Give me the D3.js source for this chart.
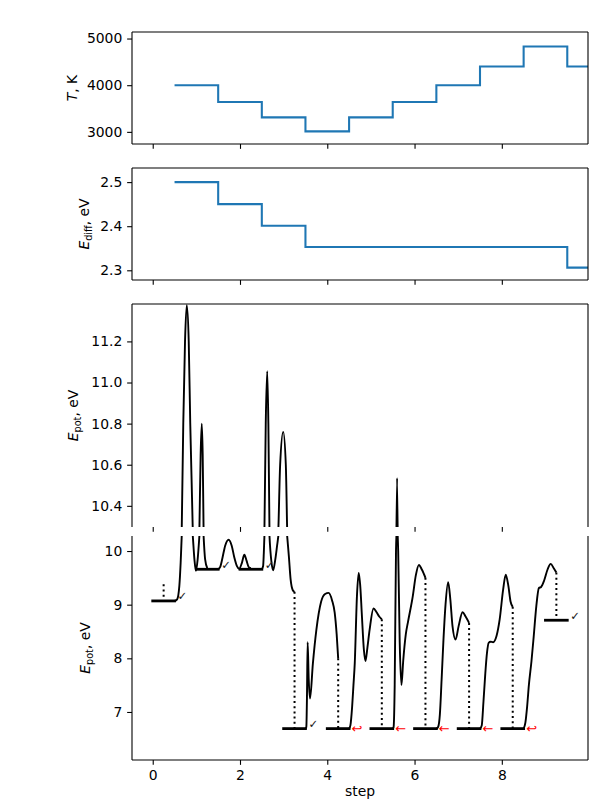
<!DOCTYPE html>
<html><head><meta charset="utf-8">
<script src="https://cdn.jsdelivr.net/npm/d3@7"></script>
<style>body{margin:0;background:#fff} text{font-family:"DejaVu Sans",sans-serif}</style>
</head><body><svg id="c" width="600" height="800"></svg>
<script>
// ---------------- data ----------------
const temperature = [4000, 3640, 3310, 3010, 3310, 3640, 4000, 4400, 4830, 4400];
const eDiff = [2.5, 2.45, 2.401, 2.353, 2.353, 2.353, 2.353, 2.353, 2.353, 2.306];
const basinE = [9.07, 9.66, 9.66, 6.69, 6.69, 6.69, 6.69, 6.69, 6.69, 8.71];
const startE = 9.38;
const outcome = ['✓','✓','✓','✓','↩','←','←','←','↩','✓'];
const traj0 = [[0.5,9.07],[0.56,9.1],[0.61,9.35],[0.64,9.78],[0.665,10.29],[0.70,10.8],[0.74,11.2],[0.78,11.376],[0.825,11.2],[0.86,10.8],[0.917,10.29],[0.955,9.85],[0.99,9.63],[1.03,9.85],[1.07,10.29],[1.098,10.65],[1.124,10.8],[1.145,10.65],[1.165,10.29],[1.2,9.85],[1.25,9.68]];
const traj1 = [[1.5,9.66],[1.55,9.71],[1.6,9.88],[1.66,10.1],[1.74,10.21],[1.81,10.1],[1.87,9.88],[1.93,9.72],[1.98,9.67],[2.04,9.77],[2.1,9.93],[2.15,9.82],[2.2,9.7],[2.25,9.68]];
const traj2 = [[2.5,9.66],[2.53,9.72],[2.545,9.95],[2.56,10.29],[2.59,10.8],[2.624,11.055],[2.65,10.8],[2.675,10.29],[2.72,9.8],[2.76,9.64],[2.81,9.85],[2.85,10.1],[2.88,10.29],[2.92,10.6],[2.99,10.76],[3.05,10.6],[3.08,10.29],[3.12,9.9],[3.16,9.47],[3.21,9.27],[3.25,9.24]];
const traj3 = [[3.5,6.69],[3.52,6.72],[3.535,7.3],[3.55,8.3],[3.575,7.6],[3.605,7.25],[3.67,7.9],[3.75,8.53],[3.86,9.06],[3.95,9.2],[4.03,9.22],[4.11,9.08],[4.17,8.85],[4.215,8.45],[4.25,8.0]];
const traj4 = [[4.5,6.69],[4.53,6.75],[4.57,7.1],[4.6,7.5],[4.63,7.91],[4.68,9.16],[4.72,9.59],[4.76,9.3],[4.79,8.85],[4.84,8.15],[4.875,7.95],[4.92,8.2],[4.97,8.53],[5.06,8.93],[5.13,8.86],[5.19,8.78],[5.25,8.73]];
const traj5 = [[5.5,6.69],[5.52,6.72],[5.545,7.5],[5.575,10.0],[5.60,10.535],[5.625,10.0],[5.66,8.3],[5.70,7.5],[5.74,7.95],[5.80,8.45],[5.85,8.68],[5.96,9.16],[6.03,9.55],[6.10,9.74],[6.17,9.65],[6.25,9.5]];
const traj6 = [[6.5,6.69],[6.54,6.72],[6.58,6.95],[6.62,7.6],[6.66,8.3],[6.71,9.0],[6.77,9.42],[6.82,9.1],[6.87,8.6],[6.94,8.35],[7.01,8.6],[7.1,8.86],[7.17,8.78],[7.25,8.66]];
const traj7 = [[7.5,6.69],[7.54,6.75],[7.58,7.2],[7.62,7.7],[7.66,8.1],[7.7,8.29],[7.74,8.31],[7.8,8.3],[7.88,8.42],[7.95,8.72],[8.03,9.28],[8.09,9.56],[8.15,9.35],[8.2,9.06],[8.25,8.96]];
const traj8 = [[8.5,6.69],[8.54,6.8],[8.58,7.1],[8.62,7.5],[8.68,7.95],[8.73,8.4],[8.79,8.97],[8.85,9.31],[8.9,9.33],[8.97,9.45],[9.05,9.66],[9.12,9.76],[9.19,9.68],[9.25,9.6]];
const trajectories = [traj0, traj1, traj2, traj3, traj4, traj5, traj6, traj7, traj8];
const xTicks = [0, 2, 4, 6, 8];
const tTicks = [3000, 4000, 5000];
const eDiffTicks = [2.3, 2.4, 2.5];
const eUpperTicks = [10.4, 10.6, 10.8, 11.0, 11.2];
const eLowerTicks = [7, 8, 9, 10];

// ---------------- layout ----------------
const svg = d3.select('#c');
const L = 132, R = 588;
const x = d3.scaleLinear().domain([-0.475, 9.975]).range([L, R]);
const panels = {
  T:  {top: 32,  bot: 144, dom: [2740, 5140]},
  D:  {top: 168, bot: 280, dom: [2.278, 2.532]},
  EU: {top: 304, bot: 527, dom: [10.297, 11.382]},
  EL: {top: 536, bot: 760, dom: [6.105, 10.28]}
};
for (const k in panels) {
  const p = panels[k];
  p.y = d3.scaleLinear().domain(p.dom).range([p.bot, p.top]);
  svg.append('clipPath').attr('id', 'clip' + k).append('rect')
    .attr('x', L).attr('y', p.top).attr('width', R - L).attr('height', p.bot - p.top);
}
const TL = 4.86, PAD = 4.86, FS = 13.9;

function yAxis(p, ticks, fmt) {
  const g = svg.append('g').attr('transform', `translate(${L},0)`);
  const ax = d3.axisLeft(p.y).tickValues(ticks).tickFormat(fmt).tickSize(TL).tickPadding(PAD).tickSizeOuter(0);
  g.call(ax);
  g.select('.domain').remove();
  g.selectAll('line').attr('stroke', '#000').attr('stroke-width', 1.1);
  g.selectAll('text').attr('font-size', FS).attr('fill', '#000').attr('font-family', 'DejaVu Sans');
}
function xAxis(p, labels) {
  const g = svg.append('g').attr('transform', `translate(0,${p.bot})`);
  const ax = d3.axisBottom(x).tickValues(xTicks).tickSize(TL).tickPadding(PAD).tickSizeOuter(0)
    .tickFormat(labels ? d3.format('d') : () => '');
  g.call(ax);
  g.select('.domain').remove();
  g.selectAll('line').attr('stroke', '#000').attr('stroke-width', 1.1);
  g.selectAll('text').attr('font-size', FS).attr('fill', '#000').attr('font-family', 'DejaVu Sans');
  if (!labels) g.selectAll('text').remove();
}
function spines(p, sides) {
  const g = svg.append('g').attr('stroke', '#000').attr('stroke-width', 1.1).attr('fill', 'none');
  if (sides.includes('l')) g.append('line').attr('x1', L).attr('x2', L).attr('y1', p.top).attr('y2', p.bot);
  if (sides.includes('r')) g.append('line').attr('x1', R).attr('x2', R).attr('y1', p.top).attr('y2', p.bot);
  if (sides.includes('t')) g.append('line').attr('x1', L).attr('x2', R).attr('y1', p.top).attr('y2', p.top);
  if (sides.includes('b')) g.append('line').attr('x1', L).attr('x2', R).attr('y1', p.bot).attr('y2', p.bot);
}

// ---------------- step panels ----------------
function stepPanel(p, vals, clipId) {
  const pts = vals.map((v, i) => [i + 0.5, v]);
  pts.push([vals.length + 0.5, vals[vals.length - 1]]);
  svg.append('path').datum(pts).attr('clip-path', `url(#${clipId})`)
    .attr('d', d3.line().x(d => x(d[0])).y(d => p.y(d[1])).curve(d3.curveStepAfter))
    .attr('fill', 'none').attr('stroke', '#1f77b4').attr('stroke-width', 2.08);
}
stepPanel(panels.T, temperature, 'clipT');
stepPanel(panels.D, eDiff, 'clipD');

// ---------------- energy panels ----------------
function inside(p, e) { return e >= p.dom[0] && e <= p.dom[1]; }
function energyPanel(p, clipId) {
  const g = svg.append('g').attr('clip-path', `url(#${clipId})`);
  const line = d3.line().x(d => x(d[0])).y(d => p.y(d[1])).curve(d3.curveMonotoneX);
  basinE.forEach((e, i) => {
    if (!inside(p, e)) return;
    g.append('line').attr('x1', x(i)).attr('x2', x(i + 0.5)).attr('y1', p.y(e)).attr('y2', p.y(e))
      .attr('stroke', '#000').attr('stroke-width', 2.8).attr('stroke-linecap', 'square');
  });
  trajectories.forEach(t => {
    g.append('path').datum(t).attr('d', line).attr('fill', 'none')
      .attr('stroke', '#000').attr('stroke-width', 1.9).attr('stroke-linejoin', 'round');
  });
  basinE.forEach((e, i) => {
    const from = i === 0 ? startE : trajectories[i - 1][trajectories[i - 1].length - 1][1];
    if (!inside(p, e) && !inside(p, from)) return;
    g.append('line').attr('x1', x(i + 0.25)).attr('x2', x(i + 0.25)).attr('y1', p.y(from)).attr('y2', p.y(e))
      .attr('stroke', '#000').attr('stroke-width', 2).attr('stroke-dasharray', '2,3.2');
  });
  basinE.forEach((e, i) => {
    if (!inside(p, e)) return;
    const ok = outcome[i] === '✓';
    g.append('text').attr('x', x(i + 0.5) + (ok ? 3 : 2.5)).attr('y', p.y(e) + (ok ? -0.5 : 4.5))
      .attr('font-size', ok ? 11.5 : 13).attr('fill', ok ? '#222' : '#ff0000').text(outcome[i]);
  });
}
energyPanel(panels.EU, 'clipEU');
energyPanel(panels.EL, 'clipEL');

// ---------------- axes ----------------
yAxis(panels.T, tTicks, d3.format('d'));
yAxis(panels.D, eDiffTicks, d3.format('.1f'));
yAxis(panels.EU, eUpperTicks, d3.format('.1f'));
yAxis(panels.EL, eLowerTicks, d3.format('d'));
xAxis(panels.T, false);
xAxis(panels.D, false);
xAxis(panels.EU, false);
xAxis(panels.EL, true);
spines(panels.T, 'lrtb');
spines(panels.D, 'lrtb');
spines(panels.EU, 'lrt');
spines(panels.EL, 'lrb');

// ---------------- labels ----------------
function ylab(cx, cy, main, sub, rest) {
  const t = svg.append('text').attr('transform', `translate(${cx},${cy}) rotate(-90)`)
    .attr('text-anchor', 'middle').attr('font-size', FS).attr('fill', '#000');
  t.append('tspan').attr('font-style', 'italic').text(main);
  if (sub) {
    t.append('tspan').attr('font-size', 9.7).attr('dy', 3).text(sub);
    t.append('tspan').attr('dy', -3).text(rest);
  } else t.append('tspan').text(rest);
}
ylab(77, (panels.T.top + panels.T.bot) / 2, 'T', null, ', K');
ylab(89, (panels.D.top + panels.D.bot) / 2, 'E', 'diff', ', eV');
ylab(78, (panels.EU.top + panels.EU.bot) / 2, 'E', 'pot', ', eV');
ylab(90, (panels.EL.top + panels.EL.bot) / 2, 'E', 'pot', ', eV');
svg.append('text').attr('x', (L + R) / 2).attr('y', 796).attr('text-anchor', 'middle')
  .attr('font-size', FS).attr('fill', '#000').text('step');
</script></body></html>
